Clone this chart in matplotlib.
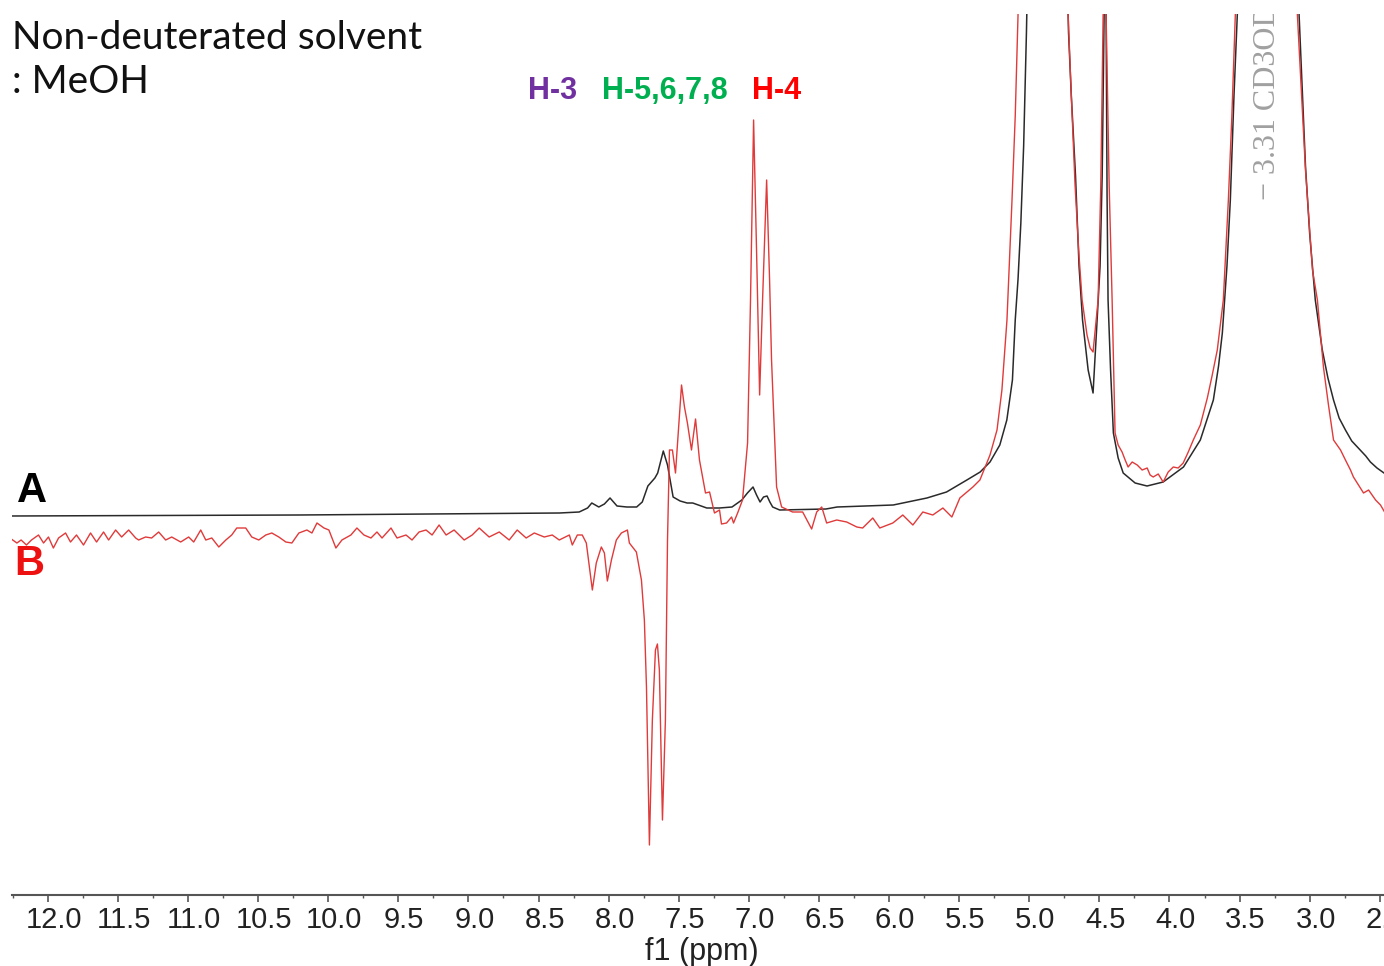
import matplotlib
matplotlib.use("Agg")
import matplotlib.pyplot as plt
import matplotlib.transforms as mtransforms
from matplotlib.ticker import MultipleLocator, FormatStrFormatter

plt.rcParams["font.family"] = ["Liberation Sans", "DejaVu Sans"]

# Spectrum A (MeOH, black) - ppm / intensity (arb. units)
a_ppm = [12.27, 10.21, 8.35, 8.21, 8.15, 8.12, 8.07, 8.03, 7.99, 7.94, 7.87,
         7.80, 7.76, 7.72, 7.67, 7.65, 7.61, 7.58, 7.54, 7.49, 7.44, 7.40,
         7.30, 7.21, 7.12, 7.05, 7.01, 6.97, 6.945, 6.92, 6.895, 6.87, 6.85,
         6.83, 6.78, 6.45, 6.37, 5.97, 5.73, 5.59, 5.445, 5.35, 5.28, 5.21,
         5.16, 5.12, 5.10, 5.08, 5.06, 5.04, 5.02, 4.88, 4.72, 4.70, 4.67,
         4.645, 4.62, 4.58, 4.545, 4.52, 4.495, 4.48, 4.466, 4.46, 4.452,
         4.445, 4.438, 4.42, 4.40, 4.366, 4.33, 4.245, 4.16, 4.045, 3.90,
         3.78, 3.687, 3.65, 3.623, 3.59, 3.566, 3.54, 3.516, 3.30, 3.08,
         3.03, 3.00, 2.96, 2.91, 2.87, 2.83, 2.79, 2.745, 2.70, 2.66, 2.60,
         2.567, 2.52, 2.47]
a_int = [0, 1, 3, 4, 8, 13, 9, 12, 18, 10, 9,
         9, 14, 30, 38, 43, 65, 51, 19, 15, 13, 13,
         8, 8, 9, 16, 23, 29, 21, 14, 19, 20, 14,
         9, 6, 7, 9, 11, 18, 24, 36, 44, 54, 71,
         96, 136, 196, 237, 293, 370, 484, 1500, 484, 420, 340,
         250, 196, 146, 123, 186, 250, 340, 502, 1500, 502,
         320, 216, 146, 83, 58, 43, 33, 30, 34, 49,
         76, 116, 150, 183, 250, 316, 420, 502, 1500, 516,
         350, 282, 216, 166, 138, 116, 98, 86, 75, 69, 60,
         54, 48, 43]

# Spectrum B (red)
b_ppm = [12.27, 12.22, 12.19, 12.152, 12.116, 12.066, 12.03, 11.995, 11.96,
         11.923, 11.873, 11.838, 11.795, 11.745, 11.695, 11.652, 11.602,
         11.566, 11.516, 11.473, 11.423, 11.373, 11.352, 11.302, 11.259,
         11.209, 11.159, 11.116, 11.052, 10.995, 10.959, 10.909, 10.873,
         10.83, 10.78, 10.73, 10.688, 10.652, 10.588, 10.545, 10.495, 10.445,
         10.402, 10.352, 10.302, 10.259, 10.209, 10.152, 10.116, 10.08, 10.03,
         9.995, 9.945, 9.902, 9.838, 9.795, 9.745, 9.695, 9.652, 9.616,
         9.552, 9.509, 9.445, 9.402, 9.352, 9.302, 9.259, 9.209, 9.159,
         9.102, 9.03, 8.973, 8.923, 8.852, 8.78, 8.709, 8.652, 8.588, 8.53,
         8.459, 8.402, 8.352, 8.28, 8.259, 8.223, 8.188, 8.159, 8.116, 8.088,
         8.052, 8.03, 8.009, 7.98, 7.945, 7.909, 7.866, 7.852, 7.802, 7.766,
         7.745, 7.73, 7.709, 7.688, 7.666, 7.652, 7.638, 7.616, 7.595, 7.58,
         7.566, 7.545, 7.523, 7.48, 7.459, 7.438, 7.409, 7.38, 7.352, 7.309,
         7.28, 7.245, 7.209, 7.195, 7.159, 7.123, 7.109, 7.08, 7.045, 7.009,
         6.988, 6.966, 6.945, 6.923, 6.902, 6.873, 6.852, 6.838, 6.802,
         6.766, 6.688, 6.616, 6.552, 6.516, 6.48, 6.445, 6.373, 6.302, 6.23,
         6.188, 6.116, 6.066, 5.973, 5.902, 5.83, 5.759, 5.688, 5.616, 5.552,
         5.495, 5.402, 5.352, 5.28, 5.23, 5.195, 5.159, 5.123, 5.10, 5.08,
         4.90, 4.723, 4.70, 4.673, 4.645, 4.623, 4.588, 4.566, 4.545, 4.523,
         4.509, 4.49, 4.473, 4.46, 4.452, 4.43, 4.409, 4.388, 4.366, 4.338,
         4.316, 4.295, 4.266, 4.23, 4.195, 4.159, 4.138, 4.116, 4.08, 4.045,
         4.009, 3.973, 3.938, 3.902, 3.866, 3.83, 3.78, 3.73, 3.695, 3.659,
         3.616, 3.58, 3.555, 3.53, 3.30, 3.088, 3.03, 2.98, 2.945, 2.902,
         2.866, 2.83, 2.78, 2.745, 2.709, 2.688, 2.652, 2.616, 2.58, 2.53,
         2.495, 2.466]
b_int = [-22, -27, -24, -29, -24, -19, -27, -21, -32,
         -22, -17, -26, -19, -29, -17, -26, -16,
         -24, -14, -21, -14, -22, -24, -21, -22,
         -16, -24, -21, -26, -21, -26, -14, -24,
         -22, -31, -24, -19, -12, -12, -21, -24, -19,
         -17, -21, -26, -27, -17, -14, -17, -7, -12,
         -14, -32, -24, -19, -12, -19, -22, -16, -22,
         -12, -22, -19, -24, -16, -14, -19, -9, -19,
         -14, -24, -19, -12, -21, -16, -24, -14, -22, -17,
         -21, -19, -24, -19, -29, -19, -19, -27, -74, -47,
         -31, -37, -65, -44, -24, -17, -14, -27, -36, -64,
         -104, -171, -329, -204, -134, -128, -154, -304, -204, -24,
         66, 66, 43, 131, 109, 93, 66, 97, 56, 23,
         24, 3, 6, -8, -7, -1, -7, 3, 16, 73,
         216, 396, 266, 121, 216, 336, 236, 156, 29,
         9, 4, 4, -13, 4, 9, -7, -4, -6, -11,
         -12, -2, -12, -7, 1, -9, 4, 1, 8, -1,
         18, 29, 36, 61, 86, 126, 196, 316, 400, 500,
         1500, 502, 420, 330, 260, 216, 181, 168, 164, 196,
         216, 330, 502, 1500, 502, 330, 216, 83, 71, 64,
         56, 49, 54, 51, 46, 48, 41, 39, 42, 34,
         44, 49, 48, 53, 64, 76, 91, 118, 141, 166,
         216, 316, 400, 502, 1500, 502, 346, 246, 216, 149,
         111, 76, 66, 56, 46, 39, 31, 23, 26, 16,
         11, 4]

W, H = 1384, 966
fig = plt.figure(figsize=(W / 100, H / 100), dpi=100)
ax = fig.add_axes([12 / W, (H - 895) / H, (W - 12) / W, 881 / H])

ax.plot(a_ppm, a_int, color="#2a2a2a", lw=1.1)
ax.plot(b_ppm, b_int, color="#e03a3a", lw=1.0)

ax.set_xlim(12.255, 2.47)
ax.set_ylim(-379, 502)

for s in ["left", "right", "top"]:
    ax.spines[s].set_visible(False)
ax.spines["bottom"].set_color("#555555")
ax.spines["bottom"].set_linewidth(1.5)
ax.set_yticks([])
ax.xaxis.set_major_locator(MultipleLocator(0.5))
ax.xaxis.set_minor_locator(MultipleLocator(0.25))
ax.xaxis.set_major_formatter(FormatStrFormatter("%.1f"))
ax.tick_params(axis="x", which="major", direction="out", length=5, width=1.2,
               color="#555555", labelsize=21, labelcolor="#222222", pad=3)
ax.tick_params(axis="x", which="minor", direction="out", length=2.5, width=1.0,
               color="#555555")
for lab in ax.get_xticklabels():
    lab.set_transform(lab.get_transform() +
                      mtransforms.ScaledTranslation(6 / 100, 0, fig.dpi_scale_trans))

# solvent marker
ax.text(3.30, 316, "\u2212 3.31 CD3OD", rotation=90, ha="center", va="bottom",
        color="#a0a0a0", fontsize=23, family="Liberation Serif", clip_on=True)

def ftext(x, y, s, **kw):
    fig.text(x / W, 1 - y / H, s, **kw)

ftext(12, 49, "Non-deuterated solvent", fontsize=28, family="Lato",
      va="baseline", color="#111111")
ftext(12, 93, ": MeOH", fontsize=28, family="Lato", va="baseline",
      color="#111111")
ftext(528, 99, "H-3", fontsize=22, weight="bold", color="#7030A0",
      va="baseline")
ftext(602, 99, "H-5,6,7,8", fontsize=22, weight="bold", color="#00B050",
      va="baseline")
ftext(752, 99, "H-4", fontsize=22, weight="bold", color="#FF0000",
      va="baseline")
ftext(17, 502, "A", fontsize=30, weight="bold", color="black", va="baseline")
ftext(14, 575, "B", fontsize=30, weight="bold", color="#ee1111", va="baseline")
ftext(702, 960, "f1 (ppm)", fontsize=22, ha="center", va="baseline",
      color="#222222")

fig.savefig("out.png", dpi=100)
